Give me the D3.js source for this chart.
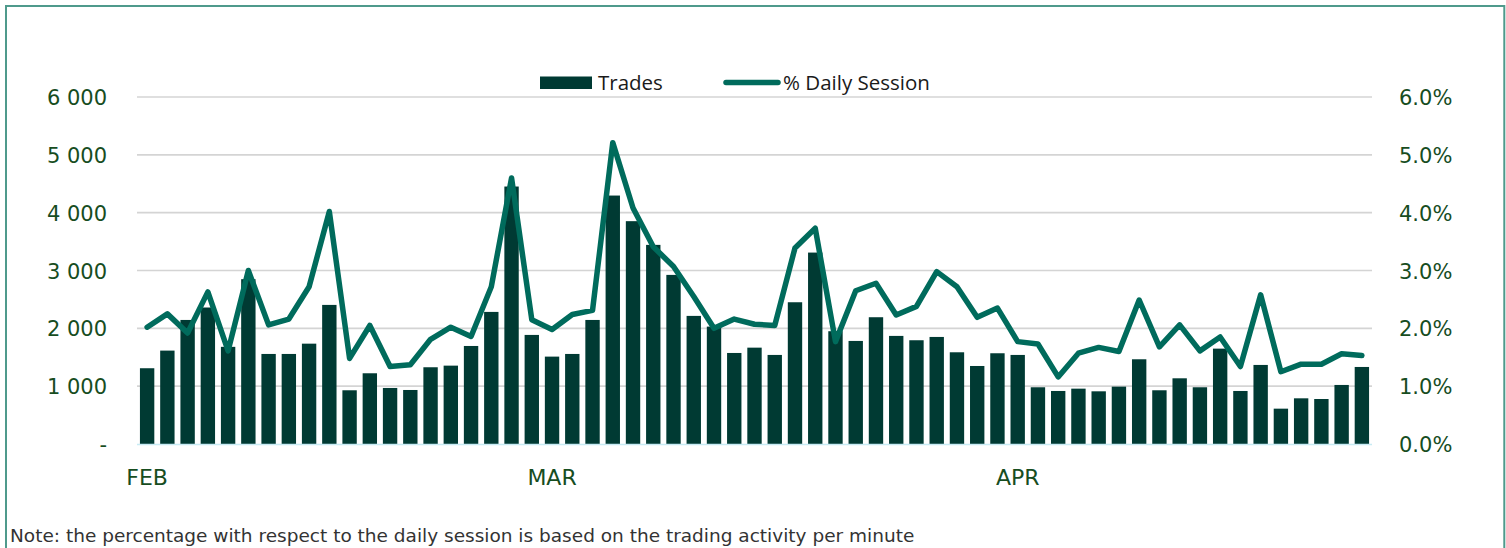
<!DOCTYPE html>
<html>
<head>
<meta charset="utf-8">
<script src="https://cdn.jsdelivr.net/npm/d3@7"></script>
<style>
  html, body { margin: 0; padding: 0; background: #fff; }
  svg { display: block; }
</style>
</head>
<body>
<svg id="chart" width="1506" height="548"></svg>
<script>
// daily number of trades (bars, left axis)
const trades = [
  1310, 1615, 2145, 2360, 1680, 2850, 1557, 1557, 1735, 2405,
  929, 1223, 969, 934, 1327, 1355, 1695, 2284, 4452, 1886,
  1511, 1557, 2145, 4296, 3853, 3443, 2924, 2215, 2030, 1574,
  1666, 1540, 2451, 3310, 1950, 1782, 2192, 1869, 1794, 1851,
  1586, 1349, 1569, 1540, 981, 917, 957, 911, 992, 1465,
  929, 1136, 981, 1649, 917, 1367, 611, 790, 778, 1021, 1332
];

// % of daily session (line, right axis)
const pctSession = [
  2.02, 2.25, 1.92, 2.63, 1.61, 3.00, 2.06, 2.16, 2.72, 4.02,
  1.48, 2.05, 1.34, 1.37, 1.81, 2.02, 1.86, 2.72, 4.60, 2.15,
  1.98, 2.24, 2.31, 5.21, 4.08, 3.41, 3.07, 2.55, 2.00, 2.16,
  2.07, 2.05, 3.39, 3.73, 1.77, 2.65, 2.78, 2.23, 2.38, 2.98,
  2.72, 2.19, 2.35, 1.77, 1.73, 1.16, 1.57, 1.67, 1.60, 2.49,
  1.68, 2.06, 1.61, 1.85, 1.34, 2.58, 1.25, 1.38, 1.38, 1.56, 1.53
].map(v => v / 100);

// first session of each month and its label
const monthStarts = [0, 20, 43];
const monthNames = ["FEB", "MAR", "APR"];

const leftTicks = [0, 1000, 2000, 3000, 4000, 5000, 6000];
const rightTicks = [0, 0.01, 0.02, 0.03, 0.04, 0.05, 0.06];

const noteText = "Note: the percentage with respect to the daily session is based on the trading activity per minute";

const BAR_COLOR = "#003a33";
const LINE_COLOR = "#006b5c";
const LABEL_COLOR = "#174d1f";
const AXIS_FONT = "'DejaVu Sans', Verdana, sans-serif";
const LEGEND_FONT = "'Open Sans', Lato, sans-serif";

const svg = d3.select("#chart");
const margin = { left: 137, right: 134, top: 97, bottom: 104 };
const width = 1506, height = 548;
const plotRight = width - margin.right;
const plotBottom = height - margin.bottom;

// frame
svg.append("path")
    .attr("d", `M6,${height + 2} V6 H1504.3 V${height + 2}`)
    .attr("fill", "none")
    .attr("stroke", "#4f9a8c")
    .attr("stroke-width", 2);

const days = d3.range(trades.length);

const x = d3.scaleBand()
    .domain(days)
    .range([margin.left, plotRight])
    .paddingInner(0.29)
    .paddingOuter(0.145);

const yLeft = d3.scaleLinear().domain([0, 6000]).range([plotBottom, margin.top]);
const yRight = d3.scaleLinear().domain([0, 0.06]).range([plotBottom, margin.top]);

// gridlines
svg.append("g")
    .selectAll("line")
    .data(leftTicks.filter(d => d > 0))
    .join("line")
    .attr("x1", margin.left)
    .attr("x2", plotRight)
    .attr("y1", d => yLeft(d))
    .attr("y2", d => yLeft(d))
    .attr("stroke", "#d4d4d4")
    .attr("stroke-width", 1.6);

// bars
svg.append("g")
    .selectAll("rect")
    .data(trades)
    .join("rect")
    .attr("x", (d, i) => x(i))
    .attr("y", d => yLeft(d))
    .attr("width", x.bandwidth())
    .attr("height", d => yLeft(0) - yLeft(d))
    .attr("fill", BAR_COLOR);

// baseline
svg.append("line")
    .attr("x1", margin.left)
    .attr("x2", plotRight)
    .attr("y1", yLeft(0) + 0.5)
    .attr("y2", yLeft(0) + 0.5)
    .attr("stroke", "#c8ebf4")
    .attr("stroke-width", 1.6);

// line
const line = d3.line()
    .x((d, i) => x(i) + x.bandwidth() / 2)
    .y(d => yRight(d));

svg.append("path")
    .datum(pctSession)
    .attr("d", line)
    .attr("fill", "none")
    .attr("stroke", LINE_COLOR)
    .attr("stroke-width", 5.5)
    .attr("stroke-linejoin", "round")
    .attr("stroke-linecap", "round");

// axes
const styleAxis = (g) => {
    g.select(".domain").remove();
    g.selectAll(".tick line").remove();
    g.selectAll("text")
        .attr("fill", LABEL_COLOR)
        .style("font-family", AXIS_FONT)
        .style("font-size", "21px");
};

svg.append("g")
    .attr("transform", `translate(${margin.left},0)`)
    .call(d3.axisLeft(yLeft)
        .tickValues(leftTicks)
        .tickSize(0)
        .tickPadding(30)
        .tickFormat(d => d === 0 ? "-" : d3.format(",")(d).replace(/,/g, " ")))
    .call(styleAxis)
    .selectAll("text").attr("dy", "0.36em");

svg.append("g")
    .attr("transform", `translate(${plotRight},0)`)
    .call(d3.axisRight(yRight)
        .tickValues(rightTicks)
        .tickSize(0)
        .tickPadding(27)
        .tickFormat(d3.format(".1%")))
    .call(styleAxis)
    .selectAll("text").attr("dy", "0.36em");

svg.append("g")
    .attr("transform", `translate(0,${plotBottom})`)
    .call(d3.axisBottom(x)
        .tickValues(monthStarts)
        .tickSize(0)
        .tickPadding(25)
        .tickFormat(d => monthNames[monthStarts.indexOf(d)]))
    .call(styleAxis)
    .selectAll("text").style("font-size", "22px");

// legend
const legend = svg.append("g")
    .style("font-family", LEGEND_FONT)
    .style("font-size", "20.5px")
    .attr("fill", "#1a1a1a");

legend.append("rect")
    .attr("x", 540).attr("y", 76.5)
    .attr("width", 52).attr("height", 12.5)
    .attr("fill", BAR_COLOR);
legend.append("text")
    .attr("x", 598).attr("y", 89.5)
    .text("Trades");

legend.append("line")
    .attr("x1", 726).attr("x2", 778)
    .attr("y1", 82.5).attr("y2", 82.5)
    .attr("stroke", LINE_COLOR)
    .attr("stroke-width", 5.5)
    .attr("stroke-linecap", "round");
legend.append("text")
    .attr("x", 783).attr("y", 89.5)
    .text("% Daily Session");

// note
svg.append("text")
    .attr("x", 10)
    .attr("y", 542)
    .style("font-family", AXIS_FONT)
    .style("font-size", "18.5px")
    .attr("fill", "#333")
    .text(noteText);
</script>
</body>
</html>
